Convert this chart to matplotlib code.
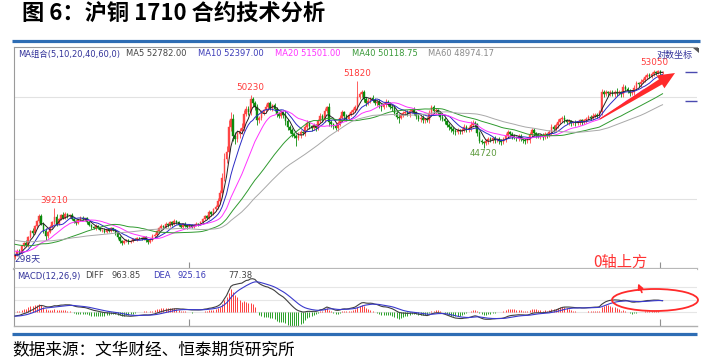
import numpy as np
import pandas as pd
import matplotlib
matplotlib.use('Agg')
from matplotlib import pyplot as plt
from matplotlib.patches import Ellipse, Polygon
from matplotlib.ticker import FixedLocator, NullLocator, NullFormatter

plt.rcParams['font.family'] = ['DejaVu Sans', 'Noto Sans CJK SC']

W, H = 718, 362

# closes before the visible window (only feed the MAs / MACD)
warmup_closes = [
    37600, 37450, 37520, 37300, 37180, 37260, 37050, 37120, 37300, 37220,
    37080, 36950, 37100, 37240, 37150, 37020, 37160, 37310, 37200, 37050,
    36980, 37060, 36900, 36820, 36950, 36880, 36760, 36700, 36850, 36920,
    36780, 36650, 36720, 36860, 36790, 36680, 36600, 36720, 36640, 36500,
    36380, 36250, 36300, 36120, 35980, 36050, 35900, 35820, 35700, 35760,
    35600, 35520, 35650, 35480, 35400, 35550, 35420, 35300, 35360, 35250,
]

# daily closes, 298 trading days shown
closes = [
    35400, 35700, 35550, 36100, 36350, 36200, 36800, 37300, 37100, 37700, 38100, 38550, 37900, 37300, 36850, 37200, 37650, 38000, 38450, 37900,
    38300, 38600, 38400, 38700, 38500, 38650, 38300, 38100, 37950, 38200, 38400, 38250, 38350, 38000, 37800, 37600, 37500, 37700, 37550, 37350,
    37400, 37250, 37450, 37300, 37500, 37350, 37100, 36800, 36500, 36350, 36450, 36550, 36400, 36500, 36650, 36600, 36750, 36700, 36650, 36800,
    36550, 36400, 36600, 36900, 37000, 37300, 37550, 37700, 37600, 37900, 37750, 38000, 37850, 38100, 38000, 37800, 37650, 37900, 37700, 37600,
    37750, 37650, 37800, 37900, 37850, 38000, 38250, 38500, 38400, 38850, 38700, 39100, 39300, 39800, 40500, 41900, 43700, 44300, 46800, 47600,
    45900, 45600, 46100, 46400, 46700, 48200, 48700, 48400, 49800, 49300, 48900, 47500, 47800, 48300, 48600, 48900, 49300, 48800, 49100, 48700,
    48200, 48000, 48300, 48100, 47400, 46800, 46500, 46100, 45900, 45750, 46000, 46300, 46200, 46800, 47200, 46900, 46700, 47000, 46750, 47400,
    48000, 47600, 48500, 48900, 47300, 47100, 46900, 46700, 47200, 47800, 48350, 48000, 47700, 48100, 48400, 48600, 48900, 49950, 50300, 50500,
    49800, 49300, 49600, 49900, 49700, 49300, 49500, 49100, 48900, 49200, 49500, 49300, 48900, 48800, 48300, 47900, 47800, 48100, 48300, 48400,
    48200, 48500, 48600, 48300, 48000, 47700, 47800, 47500, 47600, 47500, 48300, 48900, 48500, 48600, 48300, 47900, 47700, 47400, 47000, 46800,
    46600, 46400, 46300, 46500, 46400, 46500, 46800, 46600, 46700, 47000, 47200, 47100, 46200, 45400, 45300, 45200, 45400, 45600, 45500, 45700,
    45500, 45600, 45400, 45300, 45600, 45900, 46300, 46100, 45900, 45800, 45700, 45900, 45600, 45500, 45400, 45500, 46000, 46500, 46200, 46000,
    45900, 46000, 45800, 46100, 46000, 46300, 46800, 46600, 47000, 47300, 47600, 47800, 47500, 47300, 47400, 47200, 47300, 47200, 47300, 47500,
    47300, 47500, 47700, 47900, 47800, 48000, 48100, 48000, 48400, 50500, 50300, 50500, 50400, 50500, 50300, 50600, 50400, 50500, 50300, 51100,
    50900, 50700, 50400, 50500, 51000, 51500, 51400, 51700, 51900, 52200, 52500, 52300, 52600, 52800, 52700, 52900, 52700, 52800,
]

# upper shadow above the body top, lower shadow below the body bottom
up_wicks = [
    80, 120, 150, 90, 60, 180, 100, 70, 200, 120, 90, 200, 150, 110, 250, 90, 130, 80, 760, 220,
    100, 150, 250, 200, 120, 80, 160, 90, 130, 70, 110, 180, 60, 100, 140, 80, 90, 150, 70, 110,
    60, 120, 90, 70, 130, 80, 100, 150, 60, 90, 120, 70, 100, 80, 60, 110, 90, 70, 130, 80,
    100, 60, 90, 120, 150, 80, 110, 140, 90, 160, 70, 120, 100, 150, 80, 90, 110, 70, 130, 60,
    90, 100, 70, 120, 80, 110, 150, 130, 90, 200, 120, 160, 180, 250, 300, 450, 500, 600, 700, 800,
    600, 400, 350, 300, 500, 400, 350, 300, 430, 250, 300, 350, 200, 250, 150, 300, 200, 250, 180, 220,
    250, 150, 300, 200, 350, 250, 180, 220, 150, 200, 300, 200, 150, 250, 300, 200, 150, 250, 180, 300,
    250, 200, 300, 150, 400, 200, 150, 250, 200, 300, 250, 150, 200, 180, 250, 200, 220, 1870, 300, 250,
    300, 200, 250, 150, 300, 200, 180, 250, 150, 200, 300, 180, 150, 250, 200, 150, 300, 180, 200, 150,
    250, 200, 150, 300, 180, 200, 150, 250, 200, 300, 350, 250, 200, 180, 150, 200, 250, 150, 180, 200,
    150, 200, 180, 250, 150, 200, 300, 180, 250, 400, 300, 200, 150, 180, 200, 150, 250, 200, 180, 150,
    200, 150, 180, 250, 200, 300, 250, 150, 200, 180, 150, 200, 180, 150, 200, 250, 300, 200, 180, 150,
    200, 150, 180, 200, 150, 250, 300, 200, 250, 300, 200, 150, 250, 180, 200, 150, 180, 200, 150, 180,
    200, 150, 180, 200, 150, 250, 200, 180, 250, 400, 300, 250, 200, 300, 250, 200, 350, 250, 200, 300,
    250, 200, 180, 250, 300, 250, 200, 300, 180, 250, 200, 150, 200, 250, 180, 100, 150, 120,
]
down_wicks = [
    150, 100, 200, 80, 120, 90, 150, 100, 130, 80, 200, 120, 150, 180, 250, 100, 80, 120, 150, 200,
    150, 120, 90, 130, 100, 150, 80, 120, 200, 90, 110, 70, 130, 150, 100, 120, 80, 100, 130, 90,
    110, 80, 120, 100, 70, 90, 130, 150, 200, 160, 100, 80, 120, 90, 110, 70, 100, 80, 120, 90,
    110, 150, 80, 100, 90, 120, 70, 100, 130, 80, 110, 90, 120, 80, 100, 130, 90, 110, 80, 120,
    100, 80, 130, 90, 110, 70, 100, 80, 120, 100, 130, 90, 110, 150, 200, 250, 300, 400, 500, 400,
    500, 450, 300, 350, 250, 300, 250, 350, 300, 400, 350, 450, 300, 250, 200, 300, 250, 200, 300, 250,
    300, 200, 250, 300, 350, 300, 250, 300, 200, 800, 250, 300, 200, 250, 200, 300, 250, 200, 300, 250,
    200, 300, 250, 200, 350, 300, 250, 200, 300, 250, 200, 300, 250, 200, 150, 200, 250, 300, 200, 250,
    300, 250, 200, 300, 250, 200, 300, 250, 400, 200, 250, 300, 200, 350, 250, 300, 600, 200, 250, 200,
    200, 300, 250, 200, 300, 250, 350, 300, 250, 200, 300, 250, 200, 300, 250, 350, 300, 250, 200, 300,
    250, 300, 250, 200, 300, 250, 200, 300, 250, 300, 200, 250, 300, 150, 200, 480, 200, 250, 200, 300,
    250, 200, 300, 250, 200, 250, 200, 300, 250, 200, 300, 250, 200, 250, 300, 200, 250, 200, 300, 250,
    200, 250, 300, 200, 250, 200, 250, 300, 200, 250, 200, 300, 250, 200, 250, 300, 200, 250, 200, 300,
    250, 200, 250, 200, 300, 250, 200, 250, 200, 300, 250, 200, 300, 250, 200, 300, 250, 200, 300, 250,
    200, 300, 250, 200, 250, 200, 300, 250, 200, 250, 200, 150, 200, 250, 200, 150, 200, 150,
]
assert len(closes) == len(up_wicks) == len(down_wicks) == 298

ma_periods = [5, 10, 20, 40, 60]
ma_colors = ['#222222', '#2b2bc4', '#ff33ff', '#2f9a2f', '#a8a8a8']

legend_texts = ['MA组合(5,10,20,40,60,0)', 'MA5 52782.00', 'MA10 52397.00',
                'MA20 51501.00', 'MA40 50118.75', 'MA60 48974.17']
legend_colors = ['#33339a', '#444444', '#3b3bb8', '#ff33ff', '#3a9a3a', '#8a8a8a']
legend_x = [18, 126, 198, 275, 352, 428]

macd_texts = ['MACD(12,26,9)', 'DIFF', '963.85', 'DEA', '925.16', '77.38']
macd_colors = ['#33339a', '#444444', '#444444', '#3b3bb8', '#3b3bb8', '#444444']
macd_x = [17, 85, 111, 153, 178, 228]

price_grid = [40000, 50000]
macd_grid = [0, 1000, 2000]
date_ticks = [80, 296]
# windows for the high / low labels
label_windows = [(0, 60, 'high'), (90, 140, 'high'), (140, 200, 'high'),
                 (260, 298, 'high'), (180, 260, 'low')]

# ---- derived series
closes_arr = np.array(closes, dtype=float)
opens = np.r_[warmup_closes[-1], closes_arr[:-1]]
highs = np.maximum(opens, closes_arr) + np.array(up_wicks)
lows = np.minimum(opens, closes_arr) - np.array(down_wicks)
n_warm = len(warmup_closes)
all_close = pd.Series(warmup_closes + closes, dtype=float)
mas = [all_close.rolling(p).mean().values[n_warm:] for p in ma_periods]
ema12 = all_close.ewm(span=12, adjust=False).mean()
ema26 = all_close.ewm(span=26, adjust=False).mean()
diff = ema12 - ema26
dea = diff.ewm(span=9, adjust=False).mean()
hist = (2 * (diff - dea)).values[n_warm:]
diff = diff.values[n_warm:]
dea = dea.values[n_warm:]
days = np.arange(len(closes))

fig = plt.figure(figsize=(W / 100, H / 100), dpi=100)
ax = fig.add_axes([14 / W, 1 - 269 / H, 683 / W, 222 / H])
mx = fig.add_axes([14 / W, 1 - 326 / H, 683 / W, 57 / H])

# ---- price panel
ax.set_yscale('log')
ax.set_ylim(34320, 55780)
ax.set_xlim(-0.5, 312.8)
for g in price_grid:
    ax.axhline(g, color='#e2e2e2', lw=0.8, zorder=0)

up = closes_arr >= opens
colors = np.where(up, '#ff4545', '#0b8a0b')
ax.vlines(days, lows, highs, colors=colors, lw=0.6, zorder=2)
ax.bar(days, np.abs(closes_arr - opens), bottom=np.minimum(opens, closes_arr),
       width=0.75, color=colors, edgecolor=colors, linewidth=0.3, zorder=3)
for ma, c in zip(mas, ma_colors):
    ax.plot(days, ma, color=c, lw=0.7, zorder=4)

for s, e, kind in label_windows:
    if kind == 'high':
        i = s + int(np.argmax(highs[s:e]))
        ax.annotate(f'{highs[i]:.0f}', (i, highs[i]), xytext=(0, 5.5),
                    textcoords='offset points', ha='center', va='center',
                    color='#ff3b3b', fontsize=6.3)
    else:
        i = s + int(np.argmin(lows[s:e]))
        ax.annotate(f'{lows[i]:.0f}', (i, lows[i]), xytext=(0, -4),
                    textcoords='offset points', ha='center', va='center',
                    color='#5c9a3c', fontsize=6.3)

ax.yaxis.set_major_locator(FixedLocator([52810, 49560]))
ax.yaxis.set_minor_locator(NullLocator())
ax.yaxis.set_major_formatter(NullFormatter())
ax.yaxis.set_minor_formatter(NullFormatter())
ax.tick_params(axis='y', which='both', left=False, right=True, direction='in',
               length=9, width=1, color='#4a4ab0')
ax.set_xticks(date_ticks)
ax.tick_params(axis='x', direction='in', length=5, color='#909090', labelbottom=False)
for side in ['left', 'top']:
    ax.spines[side].set_color('#9a9a9a')
    ax.spines[side].set_linewidth(0.8)
ax.spines['right'].set_visible(False)
ax.spines['bottom'].set_color('#b8b8b8')
ax.spines['bottom'].set_linewidth(1.6)

# ---- MACD panel
mx.set_xlim(-0.5, 312.8)
mx.set_ylim(-1120, 3440)
for g in macd_grid:
    mx.axhline(g, color='#e6e6e6', lw=0.8, zorder=0)
mx.vlines(days, 0, hist, colors=np.where(hist >= 0, '#ff3b3b', '#27a027'), lw=0.7, zorder=2)
mx.plot(days, diff, color='#404040', lw=0.8, zorder=3)
mx.plot(days, dea, color='#3a3acc', lw=0.8, zorder=3)
mx.set_yticks([])
mx.set_xticks(date_ticks)
mx.tick_params(axis='x', direction='in', length=5, color='#909090', labelbottom=False)
mx.spines['top'].set_visible(False)
mx.spines['right'].set_visible(False)
mx.spines['left'].set_color('#9a9a9a')
mx.spines['left'].set_linewidth(0.8)
mx.spines['bottom'].set_color('#b0b0b0')
mx.spines['bottom'].set_linewidth(1.0)

# ---- page decorations in pixel coordinates
ov = fig.add_axes([0, 0, 1, 1], zorder=10)
ov.set_xlim(0, W)
ov.set_ylim(H, 0)
ov.axis('off')
ov.patch.set_alpha(0)

ov.text(22, 14, '图 6：沪铜 1710 合约技术分析', fontsize=16, fontweight='heavy',
        family=['Noto Sans CJK SC', 'DejaVu Sans'], va='center', ha='left')
ov.plot([12, 700], [41, 41], color='#2e6db4', lw=2.3, solid_capstyle='butt')
ov.plot([12, 697], [334, 334], color='#2e6db4', lw=2.3, solid_capstyle='butt')
ov.text(12, 350, '数据来源：文华财经、恒泰期货研究所', fontsize=12, fontweight='light',
        family=['Noto Sans CJK SC', 'DejaVu Sans'], va='center', ha='left')

for t, c, x in zip(legend_texts, legend_colors, legend_x):
    ov.text(x, 54, t, color=c, fontsize=6, va='center', ha='left')
for t, c, x in zip(macd_texts, macd_colors, macd_x):
    ov.text(x, 276, t, color=c, fontsize=6, va='center', ha='left')

ov.text(14, 259, '298天', color='#33339a', fontsize=6.5, va='center', ha='left')
ov.text(657, 55, '对数坐标', color='#33339a', fontsize=6.5,
        family=['Noto Sans CJK SC', 'DejaVu Sans'], va='center', ha='left')
ov.add_patch(Polygon([(693, 47.5), (699, 47.5), (699, 53)], closed=True,
                     color='#555555', lw=0))

# red trend arrow
tail = np.array([600.0, 119.0])
tip = np.array([675.0, 73.0])
u = (tip - tail) / np.linalg.norm(tip - tail)
nrm = np.array([-u[1], u[0]])
base = tip - u * 17
pts = [tail + 0.6 * nrm, base + 3 * nrm, base + 7.5 * nrm, tip,
       base - 7.5 * nrm, base - 3 * nrm, tail - 0.6 * nrm]
ov.add_patch(Polygon(pts, closed=True, color='#ff2a2a', lw=0))

ov.text(593, 262, '0轴上方', color='#ff3333', fontsize=11,
        family=['Noto Sans CJK SC', 'DejaVu Sans'], va='center', ha='left')
ov.add_patch(Ellipse((655, 300), 86, 22, fill=False, edgecolor='#ff2a2a', lw=1.3))
ov.annotate('', xy=(637, 281), xytext=(643, 295),
            arrowprops=dict(arrowstyle='-|>', color='#ff2a2a', lw=1.2, mutation_scale=8))

fig.savefig('out.png', dpi=100)
